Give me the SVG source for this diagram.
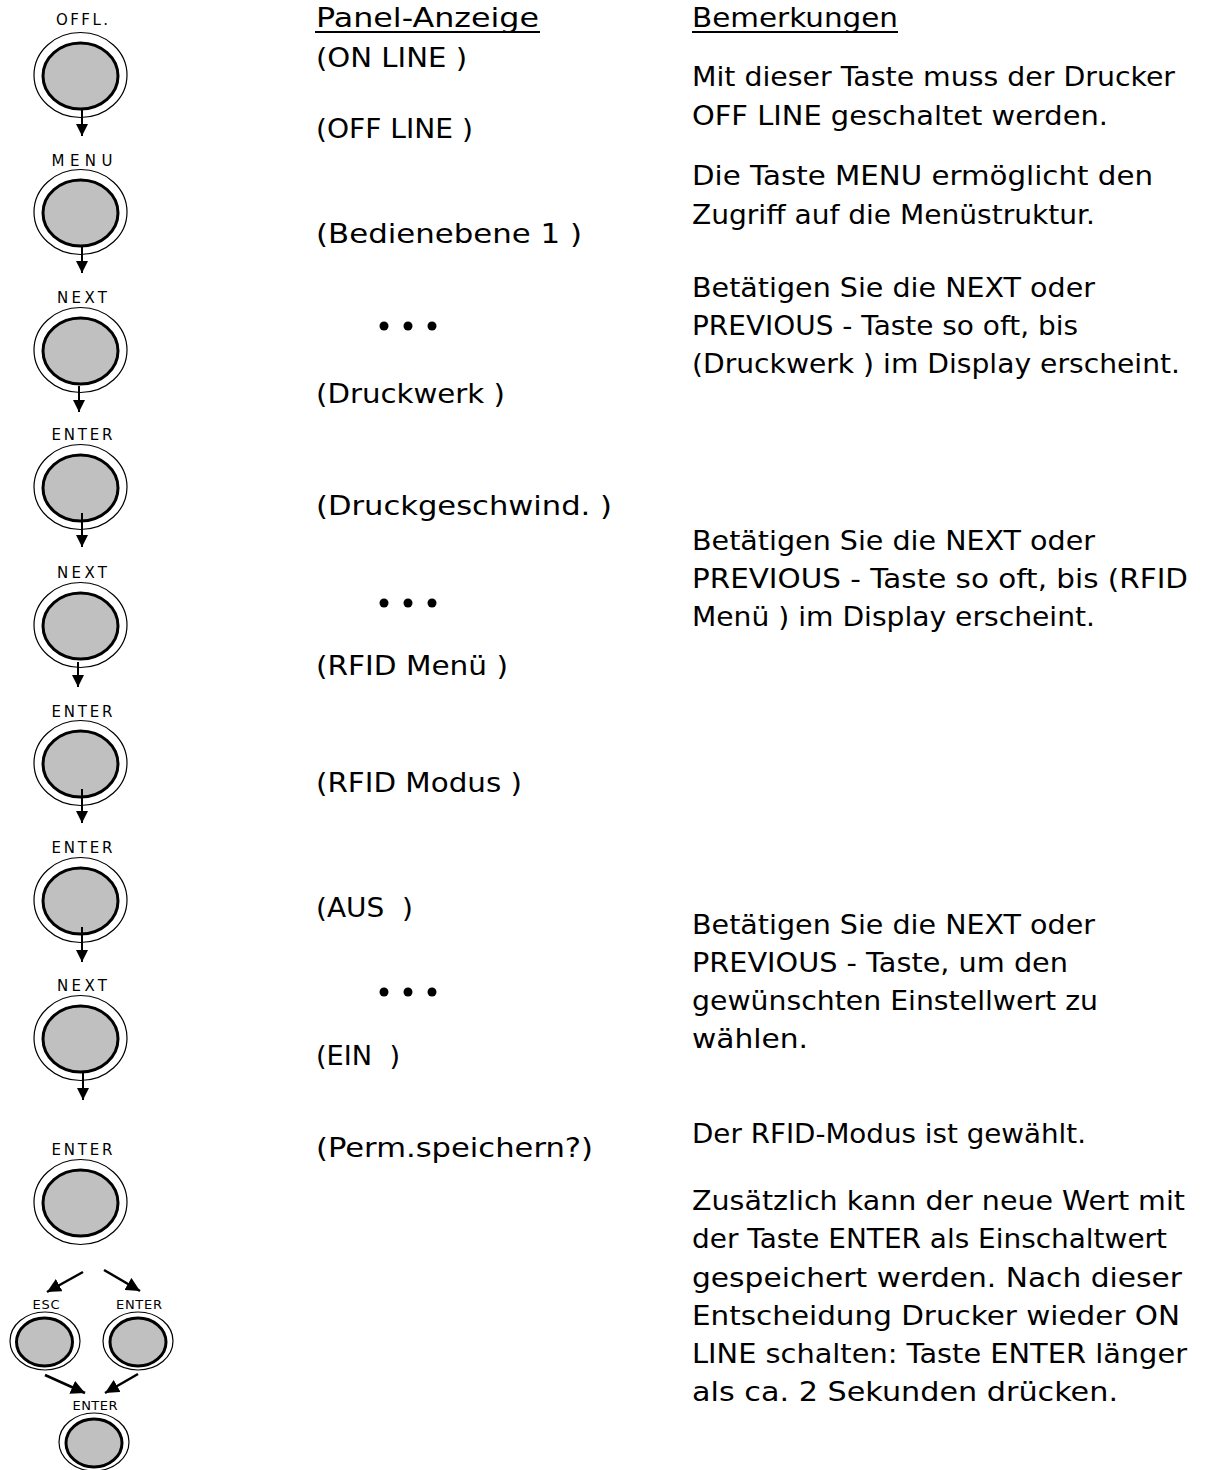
<svg xmlns="http://www.w3.org/2000/svg" width="1231" height="1470" viewBox="0 0 1231 1470">
<style>
.t{font-family:"DejaVu Sans","Liberation Sans",sans-serif;font-size:26.5px;fill:#000;white-space:pre}
.lb{font-family:"DejaVu Sans","Liberation Sans",sans-serif;font-size:15px;fill:#000;text-anchor:middle}
.lbs{font-family:"DejaVu Sans","Liberation Sans",sans-serif;font-size:13px;fill:#000;text-anchor:middle}
.out{fill:#fff;stroke:#000;stroke-width:1.2}
.in{fill:#c0c0c0;stroke:#000;stroke-width:3}
.ar{stroke:#000;stroke-width:2;fill:none}
.ard{stroke:#000;stroke-width:2.5;fill:none}
.ul{stroke:#000;stroke-width:2}
</style>
<defs>
<marker id="ah" markerUnits="userSpaceOnUse" markerWidth="13" markerHeight="12" refX="12" refY="6" orient="auto">
<path d="M0,0 L12,6 L0,12 z" fill="#000"/>
</marker>
<marker id="ahd" markerUnits="userSpaceOnUse" markerWidth="15" markerHeight="14" refX="14" refY="7" orient="auto">
<path d="M0,0 L14,7 L0,14 z" fill="#000"/>
</marker>
</defs>
<rect width="1231" height="1470" fill="#fff"/>

<g id="btn-offl">
<text class="lb" x="82" y="25" textLength="52">OFFL.</text>
<ellipse class="out" cx="80.5" cy="75" rx="46.5" ry="42.5"/>
<ellipse class="in" cx="80.5" cy="76" rx="37.5" ry="33"/>
</g>
<g id="btn-menu">
<text class="lb" x="82" y="166" textLength="61">MENU</text>
<ellipse class="out" cx="80.5" cy="212" rx="46.5" ry="42.5"/>
<ellipse class="in" cx="80.5" cy="213" rx="37.5" ry="33"/>
</g>
<g id="btn-next1">
<text class="lb" x="82" y="303" textLength="50">NEXT</text>
<ellipse class="out" cx="80.5" cy="350" rx="46.5" ry="42.5"/>
<ellipse class="in" cx="80.5" cy="351" rx="37.5" ry="33"/>
</g>
<g id="btn-enter1">
<text class="lb" x="82" y="440" textLength="61">ENTER</text>
<ellipse class="out" cx="80.5" cy="487" rx="46.5" ry="42.5"/>
<ellipse class="in" cx="80.5" cy="488" rx="37.5" ry="33"/>
</g>
<g id="btn-next2">
<text class="lb" x="82" y="578" textLength="50">NEXT</text>
<ellipse class="out" cx="80.5" cy="625" rx="46.5" ry="42.5"/>
<ellipse class="in" cx="80.5" cy="626" rx="37.5" ry="33"/>
</g>
<g id="btn-enter2">
<text class="lb" x="82" y="717" textLength="61">ENTER</text>
<ellipse class="out" cx="80.5" cy="763" rx="46.5" ry="42.5"/>
<ellipse class="in" cx="80.5" cy="764" rx="37.5" ry="33"/>
</g>
<g id="btn-enter3">
<text class="lb" x="82" y="853" textLength="61">ENTER</text>
<ellipse class="out" cx="80.5" cy="900" rx="46.5" ry="42.5"/>
<ellipse class="in" cx="80.5" cy="901" rx="37.5" ry="33"/>
</g>
<g id="btn-next3">
<text class="lb" x="82" y="991" textLength="50">NEXT</text>
<ellipse class="out" cx="80.5" cy="1038" rx="46.5" ry="42.5"/>
<ellipse class="in" cx="80.5" cy="1039" rx="37.5" ry="33"/>
</g>
<g id="btn-enter4">
<text class="lb" x="82" y="1155" textLength="61">ENTER</text>
<ellipse class="out" cx="80.5" cy="1202" rx="46.5" ry="42.5"/>
<ellipse class="in" cx="80.5" cy="1203" rx="37.5" ry="33"/>
</g>
<g id="btn-esc">
<text class="lbs" x="46" y="1309" textLength="27">ESC</text>
<ellipse class="out" cx="45" cy="1341" rx="35" ry="29"/>
<ellipse class="in" cx="44.5" cy="1342" rx="28" ry="24"/>
</g>
<g id="btn-enter5">
<text class="lbs" x="139" y="1309" textLength="46">ENTER</text>
<ellipse class="out" cx="138" cy="1341" rx="35" ry="29"/>
<ellipse class="in" cx="138" cy="1342" rx="28" ry="24"/>
</g>
<g id="btn-enter6">
<text class="lbs" x="95" y="1410" textLength="45">ENTER</text>
<ellipse class="out" cx="94" cy="1442" rx="35" ry="29"/>
<ellipse class="in" cx="94" cy="1443" rx="28" ry="24"/>
</g>

<g id="connectors">
<line class="ar" x1="82" y1="109" x2="82" y2="136" marker-end="url(#ah)"/>
<line class="ar" x1="82" y1="247" x2="82" y2="273" marker-end="url(#ah)"/>
<line class="ar" x1="79" y1="386" x2="79" y2="412" marker-end="url(#ah)"/>
<line class="ar" x1="82" y1="513" x2="82" y2="547" marker-end="url(#ah)"/>
<line class="ar" x1="78" y1="662" x2="78" y2="687" marker-end="url(#ah)"/>
<line class="ar" x1="82" y1="789" x2="82" y2="823" marker-end="url(#ah)"/>
<line class="ar" x1="82" y1="927" x2="82" y2="962" marker-end="url(#ah)"/>
<line class="ar" x1="83" y1="1073" x2="83" y2="1100" marker-end="url(#ah)"/>
<line class="ard" x1="83" y1="1272" x2="47" y2="1292" marker-end="url(#ahd)"/>
<line class="ard" x1="104" y1="1270" x2="140" y2="1291" marker-end="url(#ahd)"/>
<line class="ard" x1="45" y1="1375" x2="85" y2="1393" marker-end="url(#ahd)"/>
<line class="ard" x1="138" y1="1374" x2="105" y2="1393" marker-end="url(#ahd)"/>
</g>

<g id="panel-column">
<text class="t" x="316" y="27" textLength="223" lengthAdjust="spacingAndGlyphs">Panel-Anzeige</text>
<line class="ul" x1="315" y1="32" x2="540" y2="32"/>
<text class="t" x="316" y="67" textLength="151" lengthAdjust="spacingAndGlyphs">(ON LINE )</text>
<text class="t" x="316" y="138" textLength="157" lengthAdjust="spacingAndGlyphs">(OFF LINE )</text>
<text class="t" x="316" y="243" textLength="266" lengthAdjust="spacingAndGlyphs">(Bedienebene 1 )</text>
<circle cx="384" cy="326" r="4.5"/><circle cx="408" cy="326" r="4.5"/><circle cx="432" cy="326" r="4.5"/>
<text class="t" x="316" y="403" textLength="189" lengthAdjust="spacingAndGlyphs">(Druckwerk )</text>
<text class="t" x="316" y="515" textLength="296" lengthAdjust="spacingAndGlyphs">(Druckgeschwind. )</text>
<circle cx="384" cy="603" r="4.5"/><circle cx="408" cy="603" r="4.5"/><circle cx="432" cy="603" r="4.5"/>
<text class="t" x="316" y="675" textLength="192" lengthAdjust="spacingAndGlyphs">(RFID Menü )</text>
<text class="t" x="316" y="792" textLength="206" lengthAdjust="spacingAndGlyphs">(RFID Modus )</text>
<text class="t" x="316" y="917" textLength="97" lengthAdjust="spacingAndGlyphs">(AUS  )</text>
<circle cx="384" cy="992" r="4.5"/><circle cx="408" cy="992" r="4.5"/><circle cx="432" cy="992" r="4.5"/>
<text class="t" x="316" y="1065" textLength="84" lengthAdjust="spacingAndGlyphs">(EIN  )</text>
<text class="t" x="316" y="1157" textLength="277" lengthAdjust="spacingAndGlyphs">(Perm.speichern?)</text>
</g>

<g id="remarks-column">
<text class="t" x="692" y="27" textLength="206" lengthAdjust="spacingAndGlyphs">Bemerkungen</text>
<line class="ul" x1="692" y1="32" x2="898" y2="32"/>
<text class="t" x="692" y="86" textLength="483" lengthAdjust="spacingAndGlyphs">Mit dieser Taste muss der Drucker</text>
<text class="t" x="692" y="125" textLength="416" lengthAdjust="spacingAndGlyphs">OFF LINE geschaltet werden.</text>
<text class="t" x="692" y="185" textLength="461" lengthAdjust="spacingAndGlyphs">Die Taste MENU ermöglicht den</text>
<text class="t" x="692" y="224" textLength="403" lengthAdjust="spacingAndGlyphs">Zugriff auf die Menüstruktur.</text>
<text class="t" x="692" y="297" textLength="403" lengthAdjust="spacingAndGlyphs">Betätigen Sie die NEXT oder</text>
<text class="t" x="692" y="335" textLength="386" lengthAdjust="spacingAndGlyphs">PREVIOUS - Taste so oft, bis</text>
<text class="t" x="692" y="373" textLength="488" lengthAdjust="spacingAndGlyphs">(Druckwerk ) im Display erscheint.</text>
<text class="t" x="692" y="550" textLength="403" lengthAdjust="spacingAndGlyphs">Betätigen Sie die NEXT oder</text>
<text class="t" x="692" y="588" textLength="496" lengthAdjust="spacingAndGlyphs">PREVIOUS - Taste so oft, bis (RFID</text>
<text class="t" x="692" y="626" textLength="403" lengthAdjust="spacingAndGlyphs">Menü ) im Display erscheint.</text>
<text class="t" x="692" y="934" textLength="403" lengthAdjust="spacingAndGlyphs">Betätigen Sie die NEXT oder</text>
<text class="t" x="692" y="972" textLength="376" lengthAdjust="spacingAndGlyphs">PREVIOUS - Taste, um den</text>
<text class="t" x="692" y="1010" textLength="406" lengthAdjust="spacingAndGlyphs">gewünschten Einstellwert zu</text>
<text class="t" x="692" y="1048" textLength="116" lengthAdjust="spacingAndGlyphs">wählen.</text>
<text class="t" x="692" y="1143" textLength="394" lengthAdjust="spacingAndGlyphs">Der RFID-Modus ist gewählt.</text>
<text class="t" x="692" y="1210" textLength="493" lengthAdjust="spacingAndGlyphs">Zusätzlich kann der neue Wert mit</text>
<text class="t" x="692" y="1248" textLength="475" lengthAdjust="spacingAndGlyphs">der Taste ENTER als Einschaltwert</text>
<text class="t" x="692" y="1287" textLength="490" lengthAdjust="spacingAndGlyphs">gespeichert werden. Nach dieser</text>
<text class="t" x="692" y="1325" textLength="488" lengthAdjust="spacingAndGlyphs">Entscheidung Drucker wieder ON</text>
<text class="t" x="692" y="1363" textLength="495" lengthAdjust="spacingAndGlyphs">LINE schalten: Taste ENTER länger</text>
<text class="t" x="692" y="1401" textLength="426" lengthAdjust="spacingAndGlyphs">als ca. 2 Sekunden drücken.</text>
</g>
</svg>
